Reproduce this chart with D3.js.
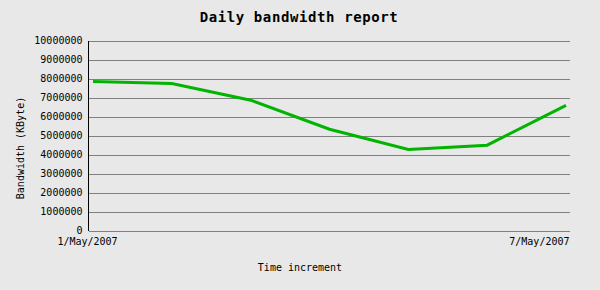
<!DOCTYPE html>
<html><head><meta charset="utf-8">
<script src="https://cdn.jsdelivr.net/npm/d3@7"></script>
<style>
html,body{margin:0;padding:0;background:#e8e8e8;}
svg{display:block;}
text{font-family:"DejaVu Sans Mono","Liberation Mono",monospace;fill:#000;}
</style></head>
<body>
<svg id="c" width="600" height="290"></svg>
<script>
const title = "Daily bandwidth report";
const yTitle = "Bandwidth (KByte)";
const xTitle = "Time increment";
const dayLabels = ["1/May/2007","2/May/2007","3/May/2007","4/May/2007","5/May/2007","6/May/2007","7/May/2007"];
const bandwidth = [7840000, 7740000, 6860000, 5330000, 4260000, 4490000, 6590000];
const yTicks = [0,1000000,2000000,3000000,4000000,5000000,6000000,7000000,8000000,9000000,10000000];

const W = 600, H = 290;
const plot = {left: 88.5, right: 569.5, top: 40.5, bottom: 230.5};
const svg = d3.select("#c");
svg.append("rect").attr("width", W).attr("height", H).attr("fill", "#e8e8e8");

const x = d3.scaleLinear().domain([0, bandwidth.length - 1]).range([93, 566]);
const y = d3.scaleLinear().domain([0, 10000000]).range([plot.bottom, plot.top]);

// grid + y tick labels
const yAxis = d3.axisLeft(y).tickValues(yTicks).tickFormat(d3.format("d"))
  .tickSizeInner(-(plot.right - plot.left)).tickSizeOuter(0).tickPadding(6);
const gy = svg.append("g").attr("transform", `translate(${plot.left},0)`).call(yAxis);
gy.select(".domain").remove();
gy.selectAll(".tick line").attr("stroke", "#808080").attr("stroke-width", 1).attr("shape-rendering", "crispEdges");
gy.selectAll(".tick text").attr("font-size", 10).attr("font-family", null).attr("fill", "#000");

// y axis line
svg.append("line").attr("x1", plot.left).attr("x2", plot.left)
  .attr("y1", plot.top).attr("y2", plot.bottom)
  .attr("stroke", "#000").attr("stroke-width", 1).attr("shape-rendering", "crispEdges");

// x labels (first and last only)
svg.append("text").attr("x", plot.left - 1).attr("y", 245).attr("text-anchor", "middle")
  .attr("font-size", 10).text(dayLabels[0]);
svg.append("text").attr("x", plot.right).attr("y", 245).attr("text-anchor", "end")
  .attr("font-size", 10).text(dayLabels[dayLabels.length - 1]);

// line
const line = d3.line().x((d, i) => x(i)).y(d => y(d));
svg.append("path").datum(bandwidth).attr("d", line)
  .attr("fill", "none").attr("stroke", "#00b400").attr("stroke-width", 3)
  .attr("stroke-linejoin", "miter");

// titles
svg.append("text").attr("x", 299).attr("y", 22).attr("text-anchor", "middle")
  .attr("font-size", 14).attr("letter-spacing", 0.6).attr("font-weight", "bold").text(title);
svg.append("text").attr("x", 300).attr("y", 271).attr("text-anchor", "middle")
  .attr("font-size", 10).text(xTitle);
svg.append("text").attr("transform", "translate(24,148) rotate(-90)").attr("text-anchor", "middle")
  .attr("font-size", 10).text(yTitle);
</script>
</body></html>
